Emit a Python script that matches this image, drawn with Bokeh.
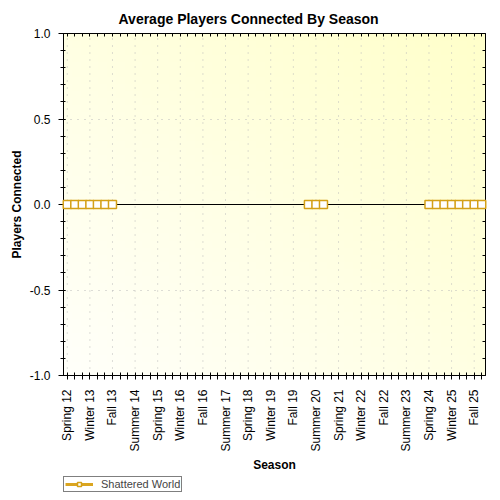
import math
import numpy as np

from bokeh.plotting import figure
from bokeh.layouts import column
from bokeh.models import (ColumnDataSource, FactorRange, Range1d, LinearAxis,
                          CategoricalAxis, SingleIntervalTicker, NumeralTickFormatter,
                          CustomJSTickFormatter, Span, Legend, LegendItem)
from bokeh.embed import file_html
from bokeh.resources import INLINE

nan = float('nan')

# seasons on the x axis
seasons = ['Spring 12', 'Summer 12', 'Fall 12',
           'Winter 13', 'Spring 13', 'Summer 13', 'Fall 13',
           'Winter 14', 'Spring 14', 'Summer 14', 'Fall 14',
           'Winter 15', 'Spring 15', 'Summer 15', 'Fall 15',
           'Winter 16', 'Spring 16', 'Summer 16', 'Fall 16',
           'Winter 17', 'Spring 17', 'Summer 17', 'Fall 17',
           'Winter 18', 'Spring 18', 'Summer 18', 'Fall 18',
           'Winter 19', 'Spring 19', 'Summer 19', 'Fall 19',
           'Winter 20', 'Spring 20', 'Summer 20', 'Fall 20',
           'Winter 21', 'Spring 21', 'Summer 21', 'Fall 21',
           'Winter 22', 'Spring 22', 'Summer 22', 'Fall 22',
           'Winter 23', 'Spring 23', 'Summer 23', 'Fall 23',
           'Winter 24', 'Spring 24', 'Summer 24', 'Fall 24',
           'Winter 25', 'Spring 25', 'Summer 25', 'Fall 25',
           'Winter 26']

# labelled seasons (every third one)
tick_labels = ['Spring 12', 'Winter 13', 'Fall 13', 'Summer 14', 'Spring 15',
               'Winter 16', 'Fall 16', 'Summer 17', 'Spring 18', 'Winter 19',
               'Fall 19', 'Summer 20', 'Spring 21', 'Winter 22', 'Fall 22',
               'Summer 23', 'Spring 24', 'Winter 25', 'Fall 25']

# average players connected, Shattered World (nan = no data)
shattered_world = [0, 0, 0, 0, 0, 0, 0,
                   nan, nan, nan, nan, nan, nan, nan, nan, nan, nan,
                   nan, nan, nan, nan, nan, nan, nan, nan, nan, nan,
                   nan, nan, nan, nan, nan,
                   0, 0, 0,
                   nan, nan, nan, nan, nan, nan, nan, nan, nan, nan,
                   nan, nan, nan,
                   0, 0, 0, 0, 0, 0, 0, 0]

y_limits = [-1.0, 1.0]

series_name = 'Shattered World'
line_color = '#DAA520'
marker_color = '#D4A017'

source = ColumnDataSource(data=dict(season=seasons, players=shattered_world))

p = figure(x_range=FactorRange(*seasons), y_range=Range1d(*y_limits),
           frame_width=422, frame_height=342,
           min_border_left=63, min_border_top=33, min_border_right=15,
           min_border_bottom=100,
           title='Average Players Connected By Season',
           x_axis_label='Season', y_axis_label='Players Connected',
           output_backend="svg", toolbar_location=None)

p.background_fill_color = '#FFFFEA'
p.border_fill_color = 'white'
p.outline_line_color = None

# soft yellow gradient behind the data
gy, gx = np.mgrid[0:1:48j, 0:1:48j]
t = (gx + gy) / 2
g = np.round(250 - 48 * t).astype(np.uint32)
img = (255 << 24) | (g << 16) | (255 << 8) | 255
p.image_rgba(image=[img], x=0, y=y_limits[0], dw=len(seasons),
             dh=y_limits[1] - y_limits[0], level='image')

# title
p.title.text_font = 'Liberation Sans'
p.title.text_font_size = '14px'
p.title.text_font_style = 'bold'
p.title.text_color = 'black'
p.title.align = 'left'
p.title.offset = 55
p.title.standoff = 14

# grid
p.xgrid.visible = False
p.ygrid.grid_line_color = '#BBBBBB'
p.ygrid.grid_line_dash = '1 6'
p.segment(x0=tick_labels, y0=y_limits[0], x1=tick_labels, y1=y_limits[1],
          line_color='#BBBBBB', line_dash='1 6', line_width=1)

# axes
ticker = SingleIntervalTicker(interval=0.5, num_minor_ticks=5)
p.yaxis.ticker = ticker
p.yaxis.formatter = NumeralTickFormatter(format='0.0')
for ax in [p.xaxis[0], p.yaxis[0]]:
    ax.axis_label_text_font = 'Liberation Sans'
    ax.axis_label_text_font_size = '12px'
    ax.axis_label_text_font_style = 'bold'
    ax.axis_label_text_color = 'black'
    ax.major_label_text_font = 'Liberation Sans'
    ax.major_label_text_font_size = '12px'
    ax.major_label_text_color = 'black'
    ax.axis_line_color = 'black'
    ax.major_tick_line_color = 'black'
    ax.minor_tick_line_color = 'black'

p.yaxis.major_tick_out = 5
p.yaxis.major_tick_in = 2
p.yaxis.minor_tick_out = 3
p.yaxis.minor_tick_in = 2
p.yaxis.major_label_standoff = 8
p.yaxis.axis_label_standoff = 3

p.xaxis.major_tick_out = 4
p.xaxis.major_tick_in = 3
p.xaxis.major_label_orientation = math.pi / 2
p.xaxis.major_label_standoff = 10
p.xaxis.axis_label_standoff = 3
p.xaxis.formatter = CustomJSTickFormatter(
    args=dict(shown=tick_labels),
    code="return shown.includes(tick) ? tick : '';")

right = LinearAxis(ticker=ticker, major_label_text_font_size='0px',
                   major_tick_in=3, major_tick_out=0, minor_tick_in=3,
                   minor_tick_out=0, major_label_standoff=0)
p.add_layout(right, 'right')
top = CategoricalAxis(major_label_text_font_size='0px', major_tick_in=3,
                      major_tick_out=0, major_label_standoff=0)
p.add_layout(top, 'above')

# series
p.line('season', 'players', source=source, line_color=line_color,
       line_width=3)
p.add_layout(Span(location=0, dimension='width', line_color='black',
                  line_width=1))
p.scatter('season', 'players', source=source, marker='square', size=8,
          line_color=marker_color, line_width=1.5, fill_color='white',
          level='overlay')

# legend strip under the chart; its glyphs use the same data but sit
# outside the strip's view range, so only the legend entry shows
leg = figure(width=500, height=25, x_range=FactorRange(*seasons),
             y_range=Range1d(5, 6), min_border=0,
             x_axis_type=None, y_axis_type=None,
             output_backend="svg", toolbar_location=None)
leg.outline_line_color = None
leg.grid.visible = False
l1 = leg.line('season', 'players', source=source, line_color=line_color,
              line_width=3)
l2 = leg.scatter('season', 'players', source=source, marker='square', size=8,
                 line_color=marker_color, line_width=1.5, fill_color='white')
legend = Legend(items=[LegendItem(label=series_name, renderers=[l1, l2])],
                location=(0, 8), orientation='horizontal')
legend.label_text_font = 'Liberation Sans'
legend.label_text_font_size = '11px'
legend.border_line_color = 'black'
legend.border_line_width = 1
legend.padding = 1
legend.margin = 0
legend.glyph_height = 10
legend.glyph_width = 28
legend.label_height = 10
legend.label_standoff = 8
leg.add_layout(legend)

layout = column(p, leg, spacing=0)

open("out.html", "w").write(file_html(layout, INLINE))
